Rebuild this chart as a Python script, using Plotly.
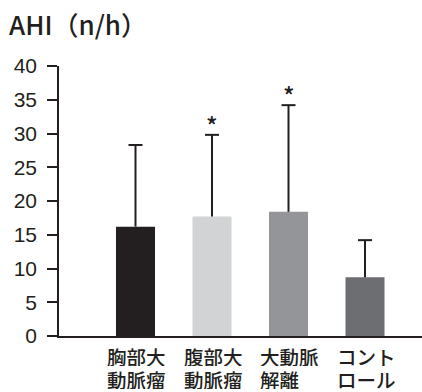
import plotly.graph_objects as go

# AHI by patient group: mean and upper SD
groups = ["胸部大<br>動脈瘤", "腹部大<br>動脈瘤", "大動脈<br>解離", "コント<br>ロール"]
ahi_mean = [16.2, 17.7, 18.4, 8.7]
ahi_sd = [12.1, 12.1, 15.8, 5.5]
significant = [False, True, True, False]
bar_colors = ["#231f20", "#d1d3d4", "#939598", "#6d6e71"]
y_ticks = [0, 5, 10, 15, 20, 25, 30, 35, 40]

INK = "#231f20"
FONT = "Noto Sans CJK JP Medium, Noto Sans CJK JP"
LABEL_SIZE = 19.5
xs = list(range(len(groups)))

fig = go.Figure()
fig.add_trace(go.Bar(
    x=xs, y=ahi_mean, width=0.51,
    marker=dict(color=bar_colors, line=dict(width=0)),
    showlegend=False, hoverinfo="skip",
))

# Upper-only SD whiskers
wx, wy = [], []
for x, m, s in zip(xs, ahi_mean, ahi_sd):
    wx += [x, x, None]
    wy += [m, m + s, None]
fig.add_trace(go.Scatter(
    x=wx, y=wy, mode="lines", line=dict(color=INK, width=2),
    showlegend=False, hoverinfo="skip",
))
fig.add_trace(go.Scatter(
    x=xs, y=[m + s for m, s in zip(ahi_mean, ahi_sd)], mode="markers",
    marker=dict(symbol="line-ew", size=10, line=dict(color=INK, width=2)),
    showlegend=False, hoverinfo="skip",
))

annotations = []
for x, m, s, sig in zip(xs, ahi_mean, ahi_sd, significant):
    if sig:
        annotations.append(dict(
            x=x, y=m + s, xref="x", yref="y", text="*", showarrow=False,
            yanchor="bottom", yshift=-9, font=dict(family=FONT, size=24, color=INK),
        ))

# Two-line category labels, left-aligned under each bar
for x, g in zip(xs, groups):
    for k, line in enumerate(g.split("<br>")):
        annotations.append(dict(
            x=x, y=0, xref="x", yref="paper", text=line, showarrow=False,
            xanchor="left", yanchor="middle", height=20, valign="middle",
            xshift=-1.5 * LABEL_SIZE - 1, yshift=-20 - 23 * k,
            font=dict(family=FONT, size=LABEL_SIZE, color=INK, weight=500),
        ))

fig.update_layout(
    width=422, height=392,
    margin=dict(l=59, r=0, t=66, b=56),
    paper_bgcolor="white", plot_bgcolor="white",
    font=dict(family=FONT, color=INK),
    title=dict(
        text="AHI（n/h）", x=9 / 422, xanchor="left", xref="container",
        y=1 - 26 / 392, yanchor="middle", yref="container",
        font=dict(family=FONT, size=26, color=INK, weight=500),
    ),
    xaxis=dict(
        range=[-1.0, 3.745], showline=True, linecolor=INK, linewidth=1.5,
        showticklabels=False, ticks="", showgrid=False, zeroline=False,
    ),
    yaxis=dict(
        range=[0, 40], tickvals=y_ticks, showline=True, linecolor=INK, linewidth=1.5,
        ticks="outside", ticklen=10, tickwidth=1.5, tickcolor=INK,
        showgrid=False, zeroline=False, ticklabelstandoff=6,
        tickfont=dict(family="Liberation Sans", size=21, color=INK),
    ),
    annotations=annotations,
)

fig.write_html("out.html")
